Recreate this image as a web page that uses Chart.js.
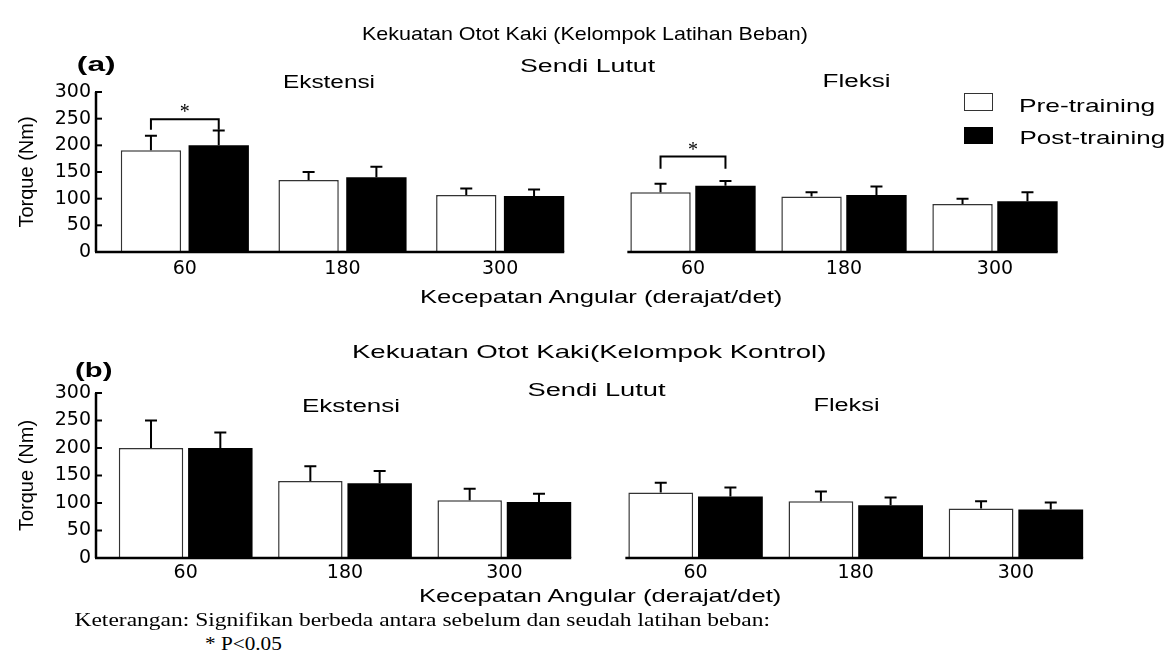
<!DOCTYPE html>
<html>
<head>
<meta charset="utf-8">
<script src="https://cdn.jsdelivr.net/npm/chart.js@4.4.0/dist/chart.umd.min.js"></script>
<style>
  body { margin: 0; background: #fff; width: 1170px; height: 660px; position: relative; overflow: hidden; font-family: "Liberation Sans", Arial, sans-serif; color: #000; }
  canvas { position: absolute; }
  .t { position: absolute; white-space: nowrap; line-height: 1; font-size: 18px; transform-origin: center center; }
  .big { font-size: 19px; }
  .b { font-weight: bold; font-size: 20px; }
  .serif { font-family: "Liberation Serif", "Times New Roman", serif; font-size: 19px; }
  .box { position: absolute; box-sizing: border-box; }
</style>
</head>
<body>

<canvas id="aExt" width="600" height="310" style="left:0;top:0"></canvas>
<canvas id="aFlx" width="570" height="310" style="left:600px;top:0"></canvas>
<canvas id="bExt" width="600" height="300" style="left:0;top:310px"></canvas>
<canvas id="bFlx" width="570" height="300" style="left:600px;top:310px"></canvas>

<!-- x, y = centre of the text, w = width it should take -->
<div class="t big" data-x="585" data-y="33" data-w="446">Kekuatan Otot Kaki (Kelompok Latihan Beban)</div>
<div class="t b" data-x="96" data-y="64" data-w="38">(a)</div>
<div class="t" data-x="587" data-y="66" data-w="135">Sendi Lutut</div>
<div class="t" data-x="329" data-y="82" data-w="92">Ekstensi</div>
<div class="t" data-x="856" data-y="81" data-w="68">Fleksi</div>
<div class="t big" data-x="601" data-y="296" data-w="362">Kecepatan Angular (derajat/det)</div>

<div class="box" style="left:964px;top:93px;width:29px;height:18px;border:1.5px solid #333;background:#fff"></div>
<div class="box" style="left:964px;top:127px;width:29px;height:17px;background:#000"></div>
<div class="t big" data-x="1087" data-y="105" data-w="136">Pre-training</div>
<div class="t big" data-x="1092" data-y="137" data-w="146">Post-training</div>

<div class="t big" data-x="589" data-y="351" data-w="474">Kekuatan Otot Kaki(Kelompok Kontrol)</div>
<div class="t b" data-x="94" data-y="370" data-w="38">(b)</div>
<div class="t" data-x="596" data-y="390" data-w="138">Sendi Lutut</div>
<div class="t" data-x="351" data-y="406" data-w="98">Ekstensi</div>
<div class="t" data-x="846" data-y="405" data-w="66">Fleksi</div>
<div class="t big" data-x="600" data-y="595" data-w="362">Kecepatan Angular (derajat/det)</div>

<div class="t serif" data-x="422" data-y="619" data-w="695">Keterangan: Signifikan berbeda antara sebelum dan seudah latihan beban:</div>
<div class="t serif" data-x="243" data-y="643" data-w="77">* P&lt;0.05</div>

<script>
// angular speed (derajat/det)
const speeds = ["60", "180", "300"];
const yTicks = [0, 50, 100, 150, 200, 250, 300];

// (a) Kelompok Latihan Beban, torque in Nm
const aExtPre = [191, 135, 107];
const aExtPreErr = [27, 15, 12];
const aExtPost = [200, 140, 105];
const aExtPostErr = [28, 20, 12];
const aFlxPre = [112, 104, 90];
const aFlxPreErr = [16, 8, 10];
const aFlxPost = [124, 107, 95];
const aFlxPostErr = [9, 16, 17];

// (b) Kelompok Kontrol
const bExtPre = [200, 140, 105];
const bExtPreErr = [50, 27, 21];
const bExtPost = [200, 136, 102];
const bExtPostErr = [28, 22, 15];
const bFlxPre = [119, 103, 90];
const bFlxPreErr = [18, 18, 13];
const bFlxPost = [112, 96, 88];
const bFlxPostErr = [16, 14, 13];

// significant pre/post pairs: category index, bracket top and leg end (Nm)
const aExtSig = [0];
const aExtSigTop = [249];
const aExtSigLeg = [229];
const aFlxSig = [0];
const aFlxSigTop = [179];
const aFlxSigLeg = [156];

// place the free text
document.querySelectorAll(".t").forEach(function (el) {
  const w = el.offsetWidth, h = el.offsetHeight;
  el.style.left = (+el.dataset.x - w / 2) + "px";
  el.style.top = (+el.dataset.y - h / 2) + "px";
  el.style.transform = "scaleX(" + (+el.dataset.w / w) + ")";
});

const errorBars = {
  id: "errorBars",
  afterDatasetsDraw(chart) {
    const ctx = chart.ctx, y = chart.scales.y;
    ctx.save();
    ctx.strokeStyle = "#000";
    ctx.lineWidth = 2;
    chart.data.datasets.forEach(function (ds, i) {
      chart.getDatasetMeta(i).data.forEach(function (bar, j) {
        const top = y.getPixelForValue(ds.data[j] + ds.errors[j]);
        ctx.beginPath();
        ctx.moveTo(bar.x, bar.y);
        ctx.lineTo(bar.x, top);
        ctx.moveTo(bar.x - 6, top);
        ctx.lineTo(bar.x + 6, top);
        ctx.stroke();
      });
    });
    ctx.restore();
  }
};

const frame = {
  id: "frame",
  afterDatasetsDraw(chart, args, opts) {
    const ctx = chart.ctx, y = chart.scales.y, area = chart.chartArea;
    const first = chart.getDatasetMeta(0).data[0];
    const last = chart.getDatasetMeta(1).data[2];
    const base = y.getPixelForValue(0);
    ctx.save();
    ctx.strokeStyle = "#000";
    ctx.lineWidth = 2.5;
    let x0 = first.x - first.width / 2 - 2;
    if (opts.yAxis) {
      x0 = area.left - 10;
      ctx.beginPath();
      ctx.moveTo(x0, y.getPixelForValue(300));
      ctx.lineTo(x0, base);
      ctx.stroke();
      ctx.lineWidth = 2;
      yTicks.forEach(function (v) {
        const py = y.getPixelForValue(v);
        ctx.beginPath();
        ctx.moveTo(x0 - 1, py);
        ctx.lineTo(x0 + 6, py);
        ctx.stroke();
      });
      ctx.lineWidth = 2.5;
    }
    ctx.beginPath();
    ctx.moveTo(x0 - 1, base);
    ctx.lineTo(last.x + last.width / 2, base);
    ctx.stroke();
    ctx.restore();
  }
};

const sig = {
  id: "sig",
  afterDatasetsDraw(chart, args, opts) {
    if (!opts.index) return;
    const ctx = chart.ctx, y = chart.scales.y;
    ctx.save();
    ctx.strokeStyle = "#000";
    ctx.fillStyle = "#000";
    ctx.lineWidth = 2;
    opts.index.forEach(function (k, n) {
      const xa = chart.getDatasetMeta(0).data[k].x;
      const xb = chart.getDatasetMeta(1).data[k].x;
      const yt = y.getPixelForValue(opts.top[n]);
      const yl = y.getPixelForValue(opts.leg[n]);
      ctx.beginPath();
      ctx.moveTo(xa, yl);
      ctx.lineTo(xa, yt);
      ctx.lineTo(xb, yt);
      ctx.lineTo(xb, yl);
      ctx.stroke();
      ctx.font = "20px 'Liberation Serif', serif";
      ctx.textAlign = "center";
      ctx.textBaseline = "alphabetic";
      ctx.fillText("*", (xa + xb) / 2, yt - 1);
    });
    ctx.restore();
  }
};

function makeChart(id, pre, preErr, post, postErr, o) {
  return new Chart(document.getElementById(id), {
    type: "bar",
    data: {
      labels: speeds,
      datasets: [
        {
          label: "Pre-training",
          data: pre,
          errors: preErr,
          backgroundColor: "#fff",
          borderColor: "#333",
          borderWidth: 1.5,
          categoryPercentage: o.cat,
          barPercentage: o.bar,
        },
        {
          label: "Post-training",
          data: post,
          errors: postErr,
          backgroundColor: "#000",
          borderColor: "#000",
          borderWidth: 0,
          categoryPercentage: o.cat,
          barPercentage: o.bar,
        },
      ],
    },
    options: {
      responsive: false,
      animation: false,
      events: [],
      layout: { padding: o.padding },
      plugins: {
        legend: { display: false },
        tooltip: { enabled: false },
        frame: { yAxis: o.yAxis },
        sig: o.sig || {},
      },
      scales: {
        x: {
          grid: { display: false, drawTicks: false },
          border: { display: false },
          ticks: { color: "#000", padding: o.labelPad, font: { family: "DejaVu Sans", size: 19 } },
          afterFit: (s) => { s.height = 30; },
        },
        y: {
          display: o.yAxis,
          min: 0,
          max: 300,
          afterBuildTicks: (s) => { s.ticks = yTicks.map((v) => ({ value: v })); },
          grid: { display: false, drawTicks: false },
          border: { display: false },
          ticks: { color: "#000", padding: 15, font: { family: "DejaVu Sans", size: 19 } },
          title: {
            display: true,
            text: "Torque (Nm)",
            color: "#000",
            padding: { top: 15, bottom: 0 },
            font: { family: "Liberation Sans", size: 20 },
          },
          afterFit: (s) => { s.width = o.yAxis ? 106 : 0; },
        },
      },
    },
    plugins: [errorBars, frame, sig],
  });
}

makeChart("aExt", aExtPre, aExtPreErr, aExtPost, aExtPostErr, {
  yAxis: true, cat: 0.86, bar: 0.89, labelPad: 6,
  padding: { left: 0, top: 92, right: 21, bottom: 28 },
  sig: { index: aExtSig, top: aExtSigTop, leg: aExtSigLeg },
});
makeChart("aFlx", aFlxPre, aFlxPreErr, aFlxPost, aFlxPostErr, {
  yAxis: false, cat: 0.86, bar: 0.93, labelPad: 6,
  padding: { left: 17.5, top: 92, right: 99.5, bottom: 28 },
  sig: { index: aFlxSig, top: aFlxSigTop, leg: aFlxSigLeg },
});
makeChart("bExt", bExtPre, bExtPreErr, bExtPost, bExtPostErr, {
  yAxis: true, cat: 0.87, bar: 0.93, labelPad: 4,
  padding: { left: 0, top: 83, right: 16, bottom: 22 },
});
makeChart("bFlx", bFlxPre, bFlxPreErr, bFlxPost, bFlxPostErr, {
  yAxis: false, cat: 0.87, bar: 0.93, labelPad: 4,
  padding: { left: 15.5, top: 83, right: 74, bottom: 22 },
});
</script>
</body>
</html>
